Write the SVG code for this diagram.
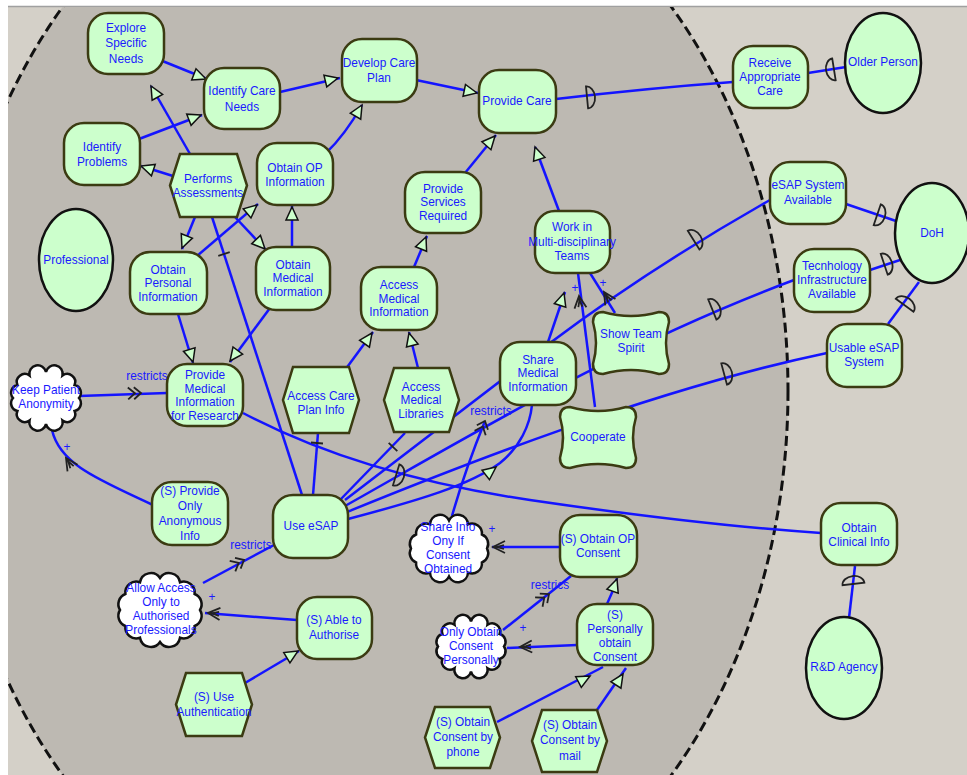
<svg xmlns="http://www.w3.org/2000/svg" xmlns:xlink="http://www.w3.org/1999/xlink" width="967" height="775" viewBox="0 0 967 775">
<defs>
<style>
.bg{fill:#d4d0c8}
.bd{fill:#bdb9b2;stroke:#111;stroke-width:3;stroke-dasharray:10 5}
.ln{fill:none;stroke:#1414ff;stroke-width:2.5}
.g{fill:#ccffcc;stroke:#3b3b12;stroke-width:2.5}
.a{fill:#ccffcc;stroke:#111;stroke-width:2.5}
.c{fill:#fff;stroke:#111;stroke-width:2.5}
.mk{fill:none;stroke:#222;stroke-width:1.8}
.tri{fill:#ccffcc;stroke:#111;stroke-width:1.5}
text{font-family:"Liberation Sans",Arial,sans-serif;font-size:12.5px;fill:#1a1aff;text-anchor:middle}
</style>
<clipPath id="clip"><rect x="8" y="7" width="959" height="768"/></clipPath>
<path id="tri" class="tri" d="M0,0 L-13,-6 L-13,6 Z"/>
<path id="dep" class="mk" d="M-4,-11 A8,11 0 0 1 -4,11 Z"/>
<path id="rst" class="mk" d="M-13,-6 L-6,0 L-13,6 M-7,-6 L0,0 L-7,6"/>
<path id="pls" class="mk" d="M-12,-6 L0,0 L-12,6 M-11,-2 L-4,0 L-11,2"/>
<path id="tick" class="mk" d="M0,-6 L0,6"/>
</defs>
<rect width="967" height="775" fill="#ffffff"/>
<rect class="bg" x="8" y="7" width="959" height="768"/>
<line x1="8" y1="6.5" x2="967" y2="6.5" stroke="#a0a0a0" stroke-width="1.5"/>
<ellipse class="bd" cx="367" cy="391" rx="421" ry="556" clip-path="url(#clip)"/>

<g id="connectors">
<path class="ln" d="M160,60 L207,79"/>
<path class="ln" d="M139,139 L202,115"/>
<path class="ln" d="M280,92 L340,78"/>
<path class="ln" d="M326,153 Q345,135 362,105"/>
<path class="ln" d="M416,80 L478,93"/>
<path class="ln" d="M465,173 L496,135"/>
<path class="ln" d="M559,211 L535,147"/>
<path class="ln" d="M414,267 L427,236"/>
<path class="ln" d="M548,342 L565,292"/>
<path class="ln" d="M345,370 L373,332"/>
<path class="ln" d="M418,368 L409,332"/>
<path class="ln" d="M190,154 L151,86"/>
<path class="ln" d="M173,176 L141,166"/>
<path class="ln" d="M195,217 L182,249"/>
<path class="ln" d="M235,217 L266,250"/>
<path class="ln" d="M197,256 L258,204"/>
<path class="ln" d="M292,247 L292,206"/>
<path class="ln" d="M178,314 L193,363"/>
<path class="ln" d="M270,308 L230,362"/>
<path class="ln" d="M245,683 L299,651"/>
<path class="ln" d="M607,604 Q613,592 617,578"/>
<path class="ln" d="M497,722 L603,667"/>
<path class="ln" d="M597,710 L626,668"/>
<path class="ln" d="M348,519 C420,500 470,485 500,463 C520,447 530,425 532,405"/>
<path class="ln" d="M212,217 L302,495"/>
<path class="ln" d="M318,433 L313,495"/>
<path class="ln" d="M405,433 L340,500"/>
<path class="ln" d="M79,396 L167,393"/>
<path class="ln" d="M203,583 L274,545"/>
<path class="ln" d="M452,516 Q465,470 485,421"/>
<path class="ln" d="M503,630 L571,576"/>
<path class="ln" d="M153,505 C100,480 60,465 52,430"/>
<path class="ln" d="M297,620 L205,613"/>
<path class="ln" d="M560,547 L492,547"/>
<path class="ln" d="M577,645 L507,648"/>
<path class="ln" d="M595,407 L578,273"/>
<path class="ln" d="M615,313 L590,273"/>
<path class="ln" d="M556,99 Q650,88 733,82"/>
<path class="ln" d="M808,73 L846,67"/>
<path class="ln" d="M846,204 L896,221"/>
<path class="ln" d="M870,270 L900,260"/>
<path class="ln" d="M888,324 L919,282"/>
<path class="ln" d="M855,566 L849,618"/>
<path class="ln" d="M243,413 Q360,475 530,500 T821,533"/>
<path class="ln" d="M345,500 L550,343 Q650,268 770,200"/>
<path class="ln" d="M345,506 C480,430 620,345 794,280"/>
<path class="ln" d="M347,512 C450,470 650,390 827,353"/>

<use xlink:href="#tri" transform="translate(206,79) rotate(21)"/>
<use xlink:href="#tri" transform="translate(201,115) rotate(-21.5)"/>
<use xlink:href="#tri" transform="translate(338,78) rotate(-13.6)"/>
<use xlink:href="#tri" transform="translate(362,105) rotate(-60)"/>
<use xlink:href="#tri" transform="translate(477,93) rotate(11.7)"/>
<use xlink:href="#tri" transform="translate(495,136) rotate(-48.8)"/>
<use xlink:href="#tri" transform="translate(535,147) rotate(-109)"/>
<use xlink:href="#tri" transform="translate(426,237) rotate(-67.6)"/>
<use xlink:href="#tri" transform="translate(564,293) rotate(-72.3)"/>
<use xlink:href="#tri" transform="translate(372,333) rotate(-55)"/>
<use xlink:href="#tri" transform="translate(409,333) rotate(-104.7)"/>
<use xlink:href="#tri" transform="translate(151,86) rotate(-119.4)"/>
<use xlink:href="#tri" transform="translate(141,166) rotate(-161.6)"/>
<use xlink:href="#tri" transform="translate(182,248) rotate(111.8)"/>
<use xlink:href="#tri" transform="translate(265,249) rotate(46.7)"/>
<use xlink:href="#tri" transform="translate(257,205) rotate(-40.3)"/>
<use xlink:href="#tri" transform="translate(292,207) rotate(-90)"/>
<use xlink:href="#tri" transform="translate(193,362) rotate(73.3)"/>
<use xlink:href="#tri" transform="translate(230,361) rotate(126.9)"/>
<use xlink:href="#tri" transform="translate(298,651) rotate(-31)"/>
<use xlink:href="#tri" transform="translate(617,579) rotate(-70)"/>
<use xlink:href="#tri" transform="translate(590,676) rotate(-27.8)"/>
<use xlink:href="#tri" transform="translate(623,674) rotate(-57)"/>
<use xlink:href="#tri" transform="translate(496,467) rotate(-38)"/>

<use xlink:href="#tick" transform="translate(224,254) rotate(72)"/>
<use xlink:href="#tick" transform="translate(317,443) rotate(94.6)"/>
<use xlink:href="#tick" transform="translate(393,447) rotate(134)"/>

<use xlink:href="#rst" transform="translate(141,393) rotate(-2)"/>
<use xlink:href="#rst" transform="translate(244,560) rotate(-28)"/>
<use xlink:href="#rst" transform="translate(485,421) rotate(-68)"/>
<use xlink:href="#rst" transform="translate(549,594) rotate(-38.5)"/>

<use xlink:href="#pls" transform="translate(66,458) rotate(-123)"/>
<use xlink:href="#pls" transform="translate(208,613) rotate(184.4)"/>
<use xlink:href="#pls" transform="translate(493,547) rotate(180)"/>
<use xlink:href="#pls" transform="translate(520,647) rotate(177.5)"/>
<use xlink:href="#pls" transform="translate(579,296) rotate(-97)"/>
<use xlink:href="#pls" transform="translate(604,292) rotate(-122)"/>

<use xlink:href="#dep" transform="translate(591,97) rotate(-5.5)"/>
<use xlink:href="#dep" transform="translate(830,70) rotate(171)"/>
<use xlink:href="#dep" transform="translate(881,216) rotate(18.8)"/>
<use xlink:href="#dep" transform="translate(888,263) rotate(-18.4)"/>
<use xlink:href="#dep" transform="translate(907,302) rotate(-53.6)"/>
<use xlink:href="#dep" transform="translate(853,580) rotate(-96.7)"/>
<use xlink:href="#dep" transform="translate(400,476) rotate(17)"/>
<use xlink:href="#dep" transform="translate(697,238) rotate(-32)"/>
<use xlink:href="#dep" transform="translate(716,308) rotate(-22)"/>
<use xlink:href="#dep" transform="translate(728,373) rotate(-15)"/>

<g transform="translate(147,0) scale(0.95,1)"><text y="380">restricts</text></g>
<g transform="translate(251,0) scale(0.95,1)"><text y="549">restricts</text></g>
<g transform="translate(491,0) scale(0.95,1)"><text y="415">restricts</text></g>
<g transform="translate(550,0) scale(0.95,1)"><text y="589">restrics</text></g>
<g transform="translate(67,0) scale(0.95,1)"><text y="451">+</text></g>
<g transform="translate(212,0) scale(0.95,1)"><text y="601">+</text></g>
<g transform="translate(492,0) scale(0.95,1)"><text y="533">+</text></g>
<g transform="translate(523,0) scale(0.95,1)"><text y="632">+</text></g>
<g transform="translate(575,0) scale(0.95,1)"><text y="292">+</text></g>
<g transform="translate(603,0) scale(0.95,1)"><text y="287">+</text></g>
</g>

<g id="n-explore"><rect class="g" x="88" y="13" width="76" height="61" rx="20"/><g transform="translate(126,0) scale(0.95,1)"><text y="32.5">Explore</text><text y="47.5">Specific</text><text y="63.5">Needs</text></g></g>
<g id="n-identify-care"><rect class="g" x="204" y="68" width="76" height="61" rx="20"/><g transform="translate(242,0) scale(0.95,1)"><text y="95.5">Identify Care</text><text y="111.5">Needs</text></g></g>
<g id="n-identify-problems"><rect class="g" x="64" y="123" width="76" height="62" rx="20"/><g transform="translate(102,0) scale(0.95,1)"><text y="151.5">Identify</text><text y="166.5">Problems</text></g></g>
<g id="n-performs"><polygon class="g" points="180,154 237,154 247,185.5 237,217 180,217 170,185.5"/><g transform="translate(208,0) scale(0.95,1)"><text y="183">Performs</text><text y="197">Assessments</text></g></g>
<g id="n-obtain-op-info"><rect class="g" x="257" y="143" width="76" height="62" rx="20"/><g transform="translate(295,0) scale(0.95,1)"><text y="172">Obtain OP</text><text y="186">Information</text></g></g>
<g id="n-develop"><rect class="g" x="342" y="39" width="75" height="63" rx="20"/><g transform="translate(379,0) scale(0.95,1)"><text y="67.5">Develop Care</text><text y="82.5">Plan</text></g></g>
<g id="n-provide-care"><rect class="g" x="479" y="70" width="77" height="63" rx="20"/><g transform="translate(517,0) scale(0.95,1)"><text y="105.5">Provide Care</text></g></g>
<g id="n-provide-services"><rect class="g" x="405" y="172" width="76" height="61" rx="20"/><g transform="translate(443,0) scale(0.95,1)"><text y="193">Provide</text><text y="206.5">Services</text><text y="220">Required</text></g></g>
<g id="n-work-multi"><rect class="g" x="535" y="211" width="75" height="62" rx="20"/><g transform="translate(572,0) scale(0.95,1)"><text y="231.5">Work in</text><text y="246">Multi-disciplinary</text><text y="260.5">Teams</text></g></g>
<g id="n-receive"><rect class="g" x="733" y="46" width="75" height="62" rx="20"/><g transform="translate(770,0) scale(0.95,1)"><text y="67">Receive</text><text y="81">Appropriate</text><text y="95">Care</text></g></g>
<g id="n-older-person"><ellipse class="a" cx="883" cy="63" rx="38" ry="50"/><g transform="translate(883,0) scale(0.95,1)"><text y="66.5">Older Person</text></g></g>
<g id="n-esap-available"><rect class="g" x="770" y="162" width="76" height="62" rx="20"/><g transform="translate(808,0) scale(0.95,1)"><text y="189.5">eSAP System</text><text y="204.5">Available</text></g></g>
<g id="n-doh"><ellipse class="a" cx="932" cy="233" rx="37" ry="50"/><g transform="translate(932,0) scale(0.95,1)"><text y="237.5">DoH</text></g></g>
<g id="n-tech"><rect class="g" x="794" y="249" width="76" height="63" rx="20"/><g transform="translate(832,0) scale(0.95,1)"><text y="270.5">Tecnhology</text><text y="284.5">Infrastructure</text><text y="298.5">Available</text></g></g>
<g id="n-usable"><rect class="g" x="827" y="324" width="75" height="63" rx="20"/><g transform="translate(864,0) scale(0.95,1)"><text y="352.5">Usable eSAP</text><text y="366.5">System</text></g></g>
<g id="n-professional"><ellipse class="a" cx="76" cy="260" rx="37" ry="51"/><g transform="translate(76,0) scale(0.95,1)"><text y="264.5">Professional</text></g></g>
<g id="n-obtain-personal"><rect class="g" x="130" y="252" width="77" height="62" rx="20"/><g transform="translate(168,0) scale(0.95,1)"><text y="274">Obtain</text><text y="287.5">Personal</text><text y="301">Information</text></g></g>
<g id="n-obtain-medical"><rect class="g" x="256" y="247" width="74" height="63" rx="20"/><g transform="translate(293,0) scale(0.95,1)"><text y="269">Obtain</text><text y="282.5">Medical</text><text y="296">Information</text></g></g>
<g id="n-pmir"><rect class="g" x="167" y="364" width="76" height="62" rx="20"/><g transform="translate(205,0) scale(0.95,1)"><text y="379">Provide</text><text y="393">Medical</text><text y="406">Information</text><text y="420">for Research</text></g></g>
<g id="n-keep-anon"><path class="c" d="M79,398 A8,8 0 0 1 74.6,411 A8,8 0 0 1 62.5,420.5 A8,8 0 0 1 46,424 A8,8 0 0 1 29.5,420.5 A8,8 0 0 1 17.4,411 A8,8 0 0 1 13,398 A8,8 0 0 1 17.4,385 A8,8 0 0 1 29.5,375.5 A8,8 0 0 1 46,372 A8,8 0 0 1 62.5,375.5 A8,8 0 0 1 74.6,385 A8,8 0 0 1 79,398 Z"/><g transform="translate(46,0) scale(0.95,1)"><text y="394.5">Keep Patient</text><text y="408.5">Anonymity</text></g></g>
<g id="n-access-care-plan"><polygon class="g" points="293,367 349,367 359,400 349,433 293,433 283,400"/><g transform="translate(321,0) scale(0.95,1)"><text y="400.5">Access Care</text><text y="414.5">Plan Info</text></g></g>
<g id="n-access-med-info"><rect class="g" x="361" y="267" width="76" height="63" rx="20"/><g transform="translate(399,0) scale(0.95,1)"><text y="289.5">Access</text><text y="303">Medical</text><text y="316.5">Information</text></g></g>
<g id="n-access-med-lib"><polygon class="g" points="394,368 449,368 459,400 449,432 394,432 384,400"/><g transform="translate(421,0) scale(0.95,1)"><text y="391">Access</text><text y="404.5">Medical</text><text y="418">Libraries</text></g></g>
<g id="n-share-med"><rect class="g" x="500" y="342" width="76" height="63" rx="20"/><g transform="translate(538,0) scale(0.95,1)"><text y="364">Share</text><text y="377.5">Medical</text><text y="391">Information</text></g></g>
<g id="n-team-spirit"><path class="g" d="M603,312 Q631,320 659,312 Q669,312 669,322 Q663,343 669,364 Q669,374 659,374 Q631,366 603,374 Q593,374 593,364 Q599,343 593,322 Q593,312 603,312 Z"/><g transform="translate(631,0) scale(0.95,1)"><text y="338.5">Show Team</text><text y="352.5">Spirit</text></g></g>
<g id="n-cooperate"><path class="g" d="M570,407 Q598,415 626,407 Q636,407 636,417 Q630,437.5 636,458 Q636,468 626,468 Q598,460 570,468 Q560,468 560,458 Q566,437.5 560,417 Q560,407 570,407 Z"/><g transform="translate(598,0) scale(0.95,1)"><text y="441.5">Cooperate</text></g></g>
<g id="n-use-esap"><rect class="g" x="273" y="495" width="75" height="63" rx="20"/><g transform="translate(311,0) scale(0.95,1)"><text y="530.5">Use eSAP</text></g></g>
<g id="n-provide-anon"><rect class="g" x="152" y="482" width="76" height="63" rx="20"/><g transform="translate(190,0) scale(0.95,1)"><text y="495.5">(S) Provide</text><text y="510.5">Only</text><text y="525.5">Anonymous</text><text y="540.5">Info</text></g></g>
<g id="n-allow-access"><path class="c" d="M200,610 A11,11 0 0 1 194.6,626 A11,11 0 0 1 180,637.7 A11,11 0 0 1 160,642 A11,11 0 0 1 140,637.7 A11,11 0 0 1 125.4,626 A11,11 0 0 1 120,610 A11,11 0 0 1 125.4,594 A11,11 0 0 1 140,582.3 A11,11 0 0 1 160,578 A11,11 0 0 1 180,582.3 A11,11 0 0 1 194.6,594 A11,11 0 0 1 200,610 Z"/><g transform="translate(161,0) scale(0.95,1)"><text y="592.5">Allow Access</text><text y="606.5">Only to</text><text y="620.5">Authorised</text><text y="634.5">Professionals</text></g></g>
<g id="n-able-authorise"><rect class="g" x="297" y="597" width="75" height="62" rx="20"/><g transform="translate(334,0) scale(0.95,1)"><text y="624.5">(S) Able to</text><text y="639.5">Authorise</text></g></g>
<g id="n-use-auth"><polygon class="g" points="186,673 242,673 252,704.5 242,736 186,736 176,704.5"/><g transform="translate(214,0) scale(0.95,1)"><text y="701.5">(S) Use</text><text y="716.5">Authentication</text></g></g>
<g id="n-share-info-consent"><path class="c" d="M487,548.5 A10,10 0 0 1 481.9,562.5 A10,10 0 0 1 468,572.7 A10,10 0 0 1 449,576.5 A10,10 0 0 1 430,572.7 A10,10 0 0 1 416.1,562.5 A10,10 0 0 1 411,548.5 A10,10 0 0 1 416.1,534.5 A10,10 0 0 1 430,524.3 A10,10 0 0 1 449,520.5 A10,10 0 0 1 468,524.3 A10,10 0 0 1 481.9,534.5 A10,10 0 0 1 487,548.5 Z"/><g transform="translate(448,0) scale(0.95,1)"><text y="531.5">Share Info</text><text y="545.5">Ony If</text><text y="559.5">Consent</text><text y="573.5">Obtained</text></g></g>
<g id="n-obtain-op-consent"><rect class="g" x="560" y="515" width="77" height="62" rx="20"/><g transform="translate(598,0) scale(0.95,1)"><text y="543.5">(S) Obtain OP</text><text y="557.5">Consent</text></g></g>
<g id="n-only-personally"><path class="c" d="M504,646.5 A8,8 0 0 1 499.6,659 A8,8 0 0 1 487.5,668.2 A8,8 0 0 1 471,671.5 A8,8 0 0 1 454.5,668.2 A8,8 0 0 1 442.4,659 A8,8 0 0 1 438,646.5 A8,8 0 0 1 442.4,634 A8,8 0 0 1 454.5,624.8 A8,8 0 0 1 471,621.5 A8,8 0 0 1 487.5,624.8 A8,8 0 0 1 499.6,634 A8,8 0 0 1 504,646.5 Z"/><g transform="translate(471,0) scale(0.95,1)"><text y="636.5">Only Obtain</text><text y="650.5">Consent</text><text y="664.5">Personally</text></g></g>
<g id="n-personally-obtain"><rect class="g" x="577" y="604" width="76" height="61" rx="20"/><g transform="translate(615,0) scale(0.95,1)"><text y="619">(S)</text><text y="633">Personally</text><text y="647">obtain</text><text y="661">Consent</text></g></g>
<g id="n-phone"><polygon class="g" points="435,707 490,707 500,737.5 490,768 435,768 425,737.5"/><g transform="translate(463,0) scale(0.95,1)"><text y="726.5">(S) Obtain</text><text y="741.5">Consent by</text><text y="756.5">phone</text></g></g>
<g id="n-mail"><polygon class="g" points="542,710 597,710 607,741 597,772 542,772 532,741"/><g transform="translate(570,0) scale(0.95,1)"><text y="729.5">(S) Obtain</text><text y="744.5">Consent by</text><text y="760.5">mail</text></g></g>
<g id="n-obtain-clinical"><rect class="g" x="821" y="503" width="76" height="62" rx="20"/><g transform="translate(859,0) scale(0.95,1)"><text y="532">Obtain</text><text y="546">Clinical Info</text></g></g>
<g id="n-rd-agency"><ellipse class="a" cx="844" cy="668" rx="38" ry="51"/><g transform="translate(844,0) scale(0.95,1)"><text y="671.5">R&amp;D Agency</text></g></g>
</svg>
